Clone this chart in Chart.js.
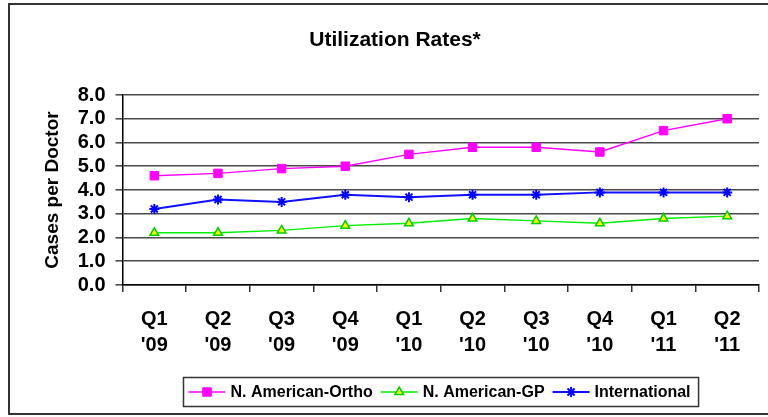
<!DOCTYPE html>
<html>
<head>
<meta charset="utf-8">
<title>Utilization Rates</title>
<script src="https://cdn.jsdelivr.net/npm/chart.js@4/dist/chart.umd.min.js"></script>
<style>
  html, body { margin: 0; padding: 0; background: #fff; }
  #wrap { width: 768px; height: 417px; position: relative; }
</style>
</head>
<body>
<div id="wrap"><canvas id="c" width="768" height="417"></canvas></div>
<script>
// Quarterly utilization, cases per doctor
const quarters = [
  ['Q1', "'09"], ['Q2', "'09"], ['Q3', "'09"], ['Q4', "'09"],
  ['Q1', "'10"], ['Q2', "'10"], ['Q3', "'10"], ['Q4', "'10"],
  ['Q1', "'11"], ['Q2', "'11"]
];
const orthoRates = [4.6, 4.7, 4.9, 5.0, 5.5, 5.8, 5.8, 5.6, 6.5, 7.0];
const gpRates    = [2.2, 2.2, 2.3, 2.5, 2.6, 2.8, 2.7, 2.6, 2.8, 2.9];
const intlRates  = [3.2, 3.6, 3.5, 3.8, 3.7, 3.8, 3.8, 3.9, 3.9, 3.9];
const seriesNames = ['N. American-Ortho', 'N. American-GP', 'International'];
const yMin = 0, yMax = 8, yStep = 1;
const chartTitle = 'Utilization Rates*';
const yTitle = 'Cases per Doctor';

const FONT = "'Liberation Sans', Arial, Helvetica, sans-serif";

function drawMarker(ctx, style, x, y, r, fill, stroke, lw) {
  ctx.save();
  ctx.lineWidth = lw;
  ctx.strokeStyle = stroke;
  ctx.fillStyle = fill;
  ctx.beginPath();
  if (style === 'rect') {
    const s = Math.SQRT1_2 * r;
    ctx.rect(x - s, y - s, 2 * s, 2 * s);
    ctx.fill();
    ctx.stroke();
  } else if (style === 'triangle') {
    const h = r * Math.sqrt(3) / 2;
    ctx.moveTo(x, y - r);
    ctx.lineTo(x + h, y + r / 2);
    ctx.lineTo(x - h, y + r / 2);
    ctx.closePath();
    ctx.fill();
    ctx.stroke();
  } else {
    for (let k = 0; k < 4; k++) {
      const a = k * Math.PI / 4;
      ctx.moveTo(x - Math.cos(a) * r, y - Math.sin(a) * r);
      ctx.lineTo(x + Math.cos(a) * r, y + Math.sin(a) * r);
    }
    ctx.stroke();
  }
  ctx.restore();
}

// White page, outer frame, title and boxed legend
const decorations = {
  id: 'decorations',
  beforeDraw(chart) {
    const ctx = chart.ctx;
    ctx.save();
    ctx.fillStyle = '#fff';
    ctx.fillRect(0, 0, chart.width, chart.height);
    ctx.restore();
  },
  afterDraw(chart) {
    const ctx = chart.ctx;
    ctx.save();
    // frame
    ctx.strokeStyle = '#333';
    ctx.lineWidth = 2;
    ctx.strokeRect(9, 4, 775, 410);

    // title
    ctx.fillStyle = '#000';
    ctx.font = 'bold 21px ' + FONT;
    ctx.textAlign = 'center';
    ctx.textBaseline = 'alphabetic';
    ctx.fillText(chartTitle, 395, 46);

    // legend
    const area = chart.chartArea;
    ctx.font = 'bold 16px ' + FONT;
    const lineLen = 37, gapText = 5, gapItem = 8, padL = 5, padR = 8;
    const widths = chart.data.datasets.map(d => ctx.measureText(d.label).width);
    let total = padL + padR;
    widths.forEach((w, i) => { total += lineLen + gapText + w + (i < widths.length - 1 ? gapItem : 0); });
    const boxX = Math.round((area.left + area.right) / 2 - total / 2) + 0.5;
    const boxY = 377.5, boxH = 29;
    ctx.strokeStyle = '#333';
    ctx.lineWidth = 1.5;
    ctx.strokeRect(boxX, boxY, total, boxH);
    const cy = boxY + boxH / 2;
    let x = boxX + padL;
    ctx.textAlign = 'left';
    ctx.textBaseline = 'middle';
    chart.data.datasets.forEach((d, i) => {
      ctx.strokeStyle = d.borderColor;
      ctx.lineWidth = d.borderWidth;
      ctx.beginPath();
      ctx.moveTo(x, cy);
      ctx.lineTo(x + lineLen, cy);
      ctx.stroke();
      drawMarker(ctx, d.pointStyle, x + lineLen / 2, cy, d.pointRadius,
                 d.pointBackgroundColor, d.pointBorderColor, d.pointBorderWidth);
      x += lineLen + gapText;
      ctx.fillStyle = '#000';
      ctx.fillText(d.label, x, cy + 1);
      x += widths[i] + gapItem;
    });
    ctx.restore();
  }
};

new Chart(document.getElementById('c'), {
  type: 'line',
  data: {
    labels: quarters,
    datasets: [
      {
        label: seriesNames[0], data: orthoRates,
        borderColor: '#ff00ff', borderWidth: 1.5,
        pointStyle: 'rect', pointRadius: 6,
        pointBackgroundColor: '#ff00ff', pointBorderColor: '#ff00ff', pointBorderWidth: 1
      },
      {
        label: seriesNames[1], data: gpRates,
        borderColor: '#00ee00', borderWidth: 1.5,
        pointStyle: 'triangle', pointRadius: 5,
        pointBackgroundColor: '#ffff00', pointBorderColor: '#00cc00', pointBorderWidth: 1.5
      },
      {
        label: seriesNames[2], data: intlRates,
        borderColor: '#1010ff', borderWidth: 2,
        pointStyle: 'star', pointRadius: 5,
        pointBackgroundColor: '#0000ff', pointBorderColor: '#0000ff', pointBorderWidth: 2
      }
    ]
  },
  options: {
    responsive: false,
    animation: false,
    events: [],
    layout: { padding: { left: 0, right: 9, top: 95, bottom: 0 } },
    plugins: {
      legend: { display: false },
      title: { display: false },
      tooltip: { enabled: false }
    },
    elements: { line: { tension: 0 } },
    scales: {
      x: {
        type: 'category',
        offset: true,
        grid: {
          display: true, offset: true, drawOnChartArea: false, drawTicks: true,
          tickLength: 7, color: '#333', lineWidth: 1.5
        },
        border: { display: true, color: '#000', width: 1.5 },
        ticks: {
          autoSkip: false, maxRotation: 0, minRotation: 0, padding: 14,
          color: '#000', font: { family: FONT, size: 20, weight: 'bold', lineHeight: 1.3 }
        },
        afterFit(scale) { scale.height = 132; }
      },
      y: {
        min: yMin, max: yMax,
        grid: { color: '#4a4a4a', lineWidth: 1.6, drawTicks: true, tickLength: 7 },
        border: { display: true, color: '#000', width: 1.5 },
        ticks: {
          stepSize: yStep, autoSkip: false, padding: 10, color: '#000',
          font: { family: FONT, size: 20, weight: 'bold', lineHeight: 1 },
          callback: v => Number(v).toFixed(1)
        },
        title: {
          display: true, text: yTitle, color: '#000',
          font: { family: FONT, size: 19, weight: 'bold' },
          padding: { top: 41, bottom: 0 }
        },
        afterFit(scale) { scale.width = 122.5; }
      }
    }
  },
  plugins: [decorations]
});
</script>
</body>
</html>
